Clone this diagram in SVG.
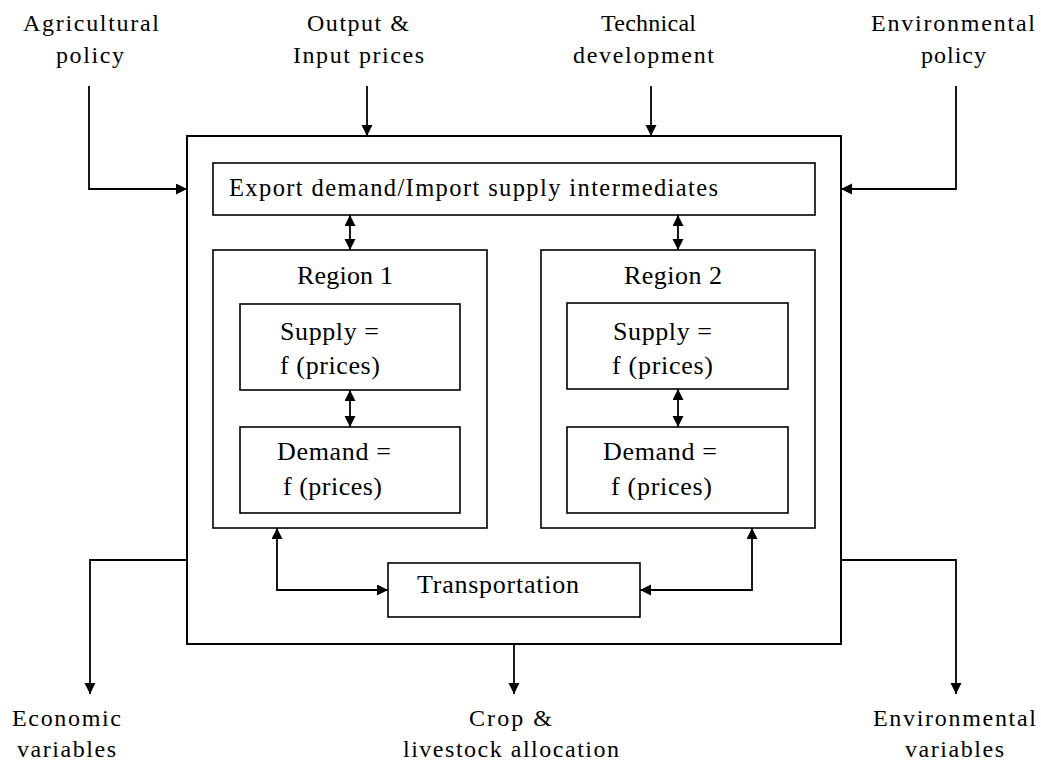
<svg xmlns="http://www.w3.org/2000/svg" width="1041" height="765" viewBox="0 0 1041 765">
<style>
text{font-family:"Liberation Serif","Times New Roman",serif;fill:#000}
.lbl{font-size:24px}
.in{font-size:26px}
.box{fill:#fff;stroke:#000;stroke-width:1.6}
.outer{fill:#fff;stroke:#000;stroke-width:2}
.con{fill:none;stroke:#000;stroke-width:1.8}
</style>
<defs>
<marker id="ah" markerUnits="userSpaceOnUse" markerWidth="12" markerHeight="12" refX="11" refY="5.5" orient="auto-start-reverse">
<path d="M0,0 L11,5.5 L0,11 z" fill="#000"/>
</marker>
</defs>
<rect width="1041" height="765" fill="#fff"/>
<g id="system">
<rect class="outer" x="187" y="136" width="654" height="508"/>
</g>
<g id="export">
<rect class="box" x="213" y="163" width="602" height="52"/>
<text class="lbl" x="229" y="196" textLength="489" style="font-size:24.5px">Export demand/Import supply intermediates</text>
</g>
<g id="region1">
<rect class="box" x="213" y="250" width="274" height="278"/>
<text class="in" x="297" y="284" textLength="96">Region 1</text>
</g>
<g id="supply1">
<rect class="box" x="240" y="304" width="220" height="86"/>
<text class="in" x="280" y="340" textLength="99">Supply =</text>
<text class="in" x="280" y="374" textLength="100">f (prices)</text>
</g>
<g id="demand1">
<rect class="box" x="240" y="427" width="220" height="86"/>
<text class="in" x="277" y="460" textLength="114">Demand =</text>
<text class="in" x="283" y="495" textLength="99">f (prices)</text>
</g>
<g id="region2">
<rect class="box" x="541" y="250" width="274" height="278"/>
<text class="in" x="624" y="284" textLength="98">Region 2</text>
</g>
<g id="supply2">
<rect class="box" x="567" y="303" width="221" height="86"/>
<text class="in" x="613" y="340" textLength="99">Supply =</text>
<text class="in" x="612" y="374" textLength="101">f (prices)</text>
</g>
<g id="demand2">
<rect class="box" x="567" y="427" width="221" height="86"/>
<text class="in" x="603" y="460" textLength="114">Demand =</text>
<text class="in" x="611" y="495" textLength="101">f (prices)</text>
</g>
<g id="transport">
<rect class="box" x="388" y="563" width="252" height="54"/>
<text class="in" x="417" y="593" textLength="162">Transportation</text>
</g>
<g id="agri-policy">
<text class="lbl" x="23" y="31" textLength="136">Agricultural</text>
<text class="lbl" x="56" y="63" textLength="68">policy</text>
</g>
<g id="prices">
<text class="lbl" x="307" y="31" textLength="102">Output &amp;</text>
<text class="lbl" x="293" y="63" textLength="131">Input prices</text>
</g>
<g id="tech">
<text class="lbl" x="601" y="31" textLength="95">Technical</text>
<text class="lbl" x="573" y="63" textLength="141">development</text>
</g>
<g id="env-policy">
<text class="lbl" x="871" y="31" textLength="164">Environmental</text>
<text class="lbl" x="921" y="63" textLength="65">policy</text>
</g>
<g id="econ-vars">
<text class="lbl" x="12" y="726" textLength="109">Economic</text>
<text class="lbl" x="17" y="757" textLength="99">variables</text>
</g>
<g id="crop">
<text class="lbl" x="469" y="726" textLength="83">Crop &amp;</text>
<text class="lbl" x="403" y="757" textLength="216">livestock allocation</text>
</g>
<g id="env-vars">
<text class="lbl" x="873" y="726" textLength="163">Environmental</text>
<text class="lbl" x="905" y="757" textLength="99">variables</text>
</g>
<g id="connectors">
<path class="con" d="M89,86 V189 H187" marker-end="url(#ah)"/>
<path class="con" d="M367,86 V136" marker-end="url(#ah)"/>
<path class="con" d="M651,86 V136" marker-end="url(#ah)"/>
<path class="con" d="M956,86 V189 H841" marker-end="url(#ah)"/>
<path class="con" d="M350,215 V250" marker-start="url(#ah)" marker-end="url(#ah)"/>
<path class="con" d="M678,215 V250" marker-start="url(#ah)" marker-end="url(#ah)"/>
<path class="con" d="M350,390 V427" marker-start="url(#ah)" marker-end="url(#ah)"/>
<path class="con" d="M678,389 V427" marker-start="url(#ah)" marker-end="url(#ah)"/>
<path class="con" d="M277,528 V590 H388" marker-start="url(#ah)" marker-end="url(#ah)"/>
<path class="con" d="M752,528 V590 H640" marker-start="url(#ah)" marker-end="url(#ah)"/>
<path class="con" d="M187,560 H90 V694" marker-end="url(#ah)"/>
<path class="con" d="M514,644 V694" marker-end="url(#ah)"/>
<path class="con" d="M841,560 H956 V694" marker-end="url(#ah)"/>
</g>
</svg>
